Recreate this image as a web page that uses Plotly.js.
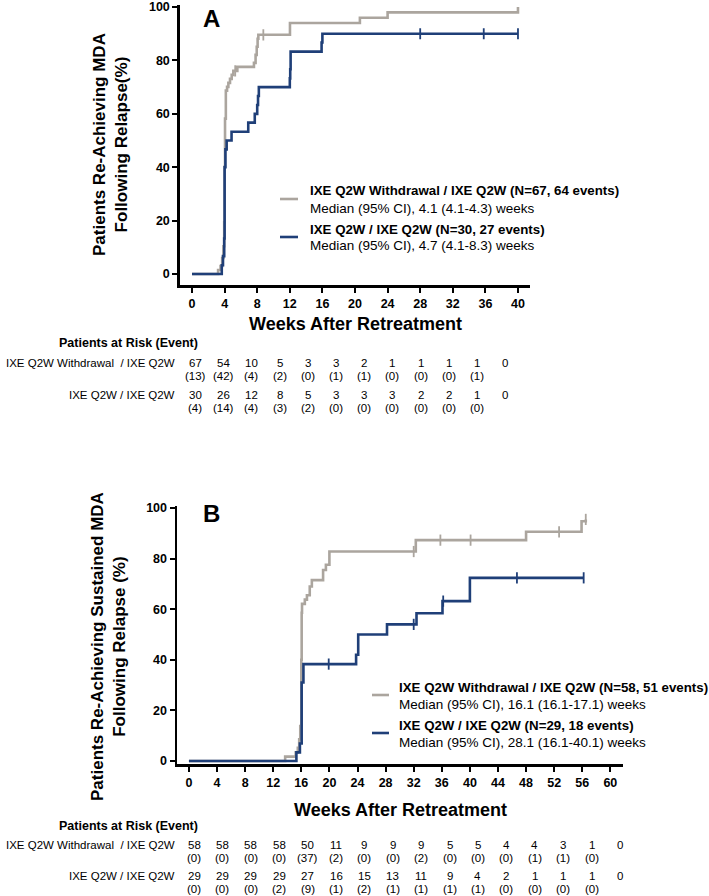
<!DOCTYPE html>
<html>
<head>
<meta charset="utf-8">
<script src="https://cdn.plot.ly/plotly-3.0.1.min.js"></script>
<style>html,body{margin:0;padding:0;background:#fff;}#chart{width:709px;height:896px;}</style>
</head>
<body>
<div id="chart"></div>
<script>
// ---------- DATA ----------
// Panel A : re-achieving MDA
const weeksA_wd = [0, 3.2, 3.5, 3.7, 3.85, 3.95, 4.0, 4.05, 4.15, 4.3, 4.46, 4.66, 4.87, 5.07, 5.56, 7.6, 7.8, 7.94, 8.05, 8.14, 12.02, 20.6, 24.0, 40.0];
const pctA_wd   = [0, 1.5, 3.0, 6.0, 10.4, 19.4, 40.3, 58.2, 68.7, 70.1, 71.6, 73.1, 74.6, 76.1, 77.6, 79.1, 82.1, 85.1, 88.1, 89.6, 94.0, 96.0, 98.0, 100];
const censA_wd_w = [5.3, 8.75];
const censA_wd_p = [76.1, 89.6];

const weeksA_ct = [0, 3.65, 3.8, 3.95, 4.0, 4.1, 4.25, 4.85, 6.9, 7.7, 8.0, 8.1, 8.2, 12.0, 12.05, 12.1, 15.9, 16.0, 40.0];
const pctA_ct   = [0, 3.3, 6.7, 13.3, 40.0, 46.7, 50.0, 53.3, 56.7, 60.0, 63.3, 66.7, 70.0, 73.3, 76.7, 83.3, 86.7, 90.0, 90.0];
const censA_ct_w = [28.0, 35.8, 40.0];
const censA_ct_p = [90.0, 90.0, 90.0];

// Panel B : re-achieving sustained MDA
const weeksB_wd = [0, 13.7, 15.2, 15.5, 15.7, 15.85, 16.0, 16.05, 16.1, 16.5, 16.8, 17.2, 17.5, 19.1, 19.5, 20.0, 32.3, 48.0, 55.9, 56.5];
const pctB_wd   = [0, 1.7, 3.4, 5.2, 8.6, 13.8, 40.0, 58.6, 62.1, 63.8, 65.5, 69.0, 71.5, 75.5, 77.6, 82.8, 87.3, 90.6, 94.8, 95.5];
const censB_wd_w = [32.0, 35.8, 40.1, 52.7, 56.5];
const censB_wd_p = [82.8, 87.3, 87.3, 90.6, 95.5];

const weeksB_ct = [0, 15.3, 15.8, 16.05, 16.3, 23.8, 24.1, 28.2, 32.4, 36.1, 40.0, 56.2];
const pctB_ct   = [0, 3.4, 6.9, 31.0, 38.3, 42.0, 50.0, 54.0, 58.4, 63.2, 72.4, 72.4];
const censB_ct_w = [19.9, 32.0, 36.2, 46.7, 56.2];
const censB_ct_p = [38.3, 54.0, 63.2, 72.4, 72.4];

// Axis ticks
const ticksA_x = [0, 4, 8, 12, 16, 20, 24, 28, 32, 36, 40];
const ticksB_x = [0, 4, 8, 12, 16, 20, 24, 28, 32, 36, 40, 44, 48, 52, 56, 60];
const ticks_y = [0, 20, 40, 60, 80, 100];

// Risk tables
const riskA_wd = [67, 54, 10, 5, 3, 3, 2, 1, 1, 1, 1, 0];
const evA_wd   = [13, 42, 4, 2, 0, 1, 1, 0, 0, 0, 1];
const riskA_ct = [30, 26, 12, 8, 5, 3, 3, 3, 2, 2, 1, 0];
const evA_ct   = [4, 14, 4, 3, 2, 0, 0, 0, 0, 0, 0];
const riskB_wd = [58, 58, 58, 58, 50, 11, 9, 9, 9, 5, 5, 4, 4, 3, 1, 0];
const evB_wd   = [0, 0, 0, 0, 37, 2, 0, 0, 2, 0, 0, 0, 1, 1, 0];
const riskB_ct = [29, 29, 29, 29, 27, 16, 15, 13, 11, 9, 4, 2, 1, 1, 1, 0];
const evB_ct   = [0, 0, 0, 2, 9, 1, 2, 1, 1, 1, 1, 0, 0, 0, 0];

// Text
const rowLabels = ['IXE\u00a0Q2W Withdrawal\u00a0\u00a0/\u00a0IXE\u00a0Q2W', 'IXE\u00a0Q2W\u00a0/\u00a0IXE\u00a0Q2W'];
const legA = [
  ['IXE Q2W Withdrawal / IXE Q2W (N=67, 64 events)', 'Median (95% CI), 4.1 (4.1-4.3) weeks'],
  ['IXE Q2W / IXE Q2W (N=30, 27 events)', 'Median (95% CI), 4.7 (4.1-8.3) weeks']
];
const legB = [
  ['IXE Q2W Withdrawal / IXE Q2W (N=58, 51 events)', 'Median (95% CI), 16.1 (16.1-17.1) weeks'],
  ['IXE Q2W / IXE Q2W (N=29, 18 events)', 'Median (95% CI), 28.1 (16.1-40.1) weeks']
];

// ---------- STYLE ----------
const W = 709, H = 896;
const GRAY = '#aba59e', BLUE = '#1f3f78';
const F = 'Liberation Sans, Arial, sans-serif';
const FN = 'Liberation Sans Narrow, Arial Narrow, Liberation Sans, Arial, sans-serif';
const TS = 11.5; // risk table font size
const px = x => x / W;
const py = y => 1 - y / H;

function stepTrace(x, y, color, xa, ya) {
  return {x, y, type: 'scatter', mode: 'lines', line: {color, width: 2.6, shape: 'hv'},
          xaxis: xa, yaxis: ya, hoverinfo: 'skip', showlegend: false};
}
function censTrace(x, y, color, xa, ya) {
  return {x, y, type: 'scatter', mode: 'markers',
          marker: {symbol: 'line-ns-open', size: 8, color, line: {color, width: 1.8}},
          xaxis: xa, yaxis: ya, hoverinfo: 'skip', showlegend: false};
}

const data = [
  stepTrace(weeksA_wd, pctA_wd, GRAY, 'x', 'y'),
  stepTrace(weeksA_ct, pctA_ct, BLUE, 'x', 'y'),
  censTrace(censA_wd_w, censA_wd_p, GRAY, 'x', 'y'),
  censTrace(censA_ct_w, censA_ct_p, BLUE, 'x', 'y'),
  stepTrace(weeksB_wd, pctB_wd, GRAY, 'x2', 'y2'),
  stepTrace(weeksB_ct, pctB_ct, BLUE, 'x2', 'y2'),
  censTrace(censB_wd_w, censB_wd_p, GRAY, 'x2', 'y2'),
  censTrace(censB_ct_w, censB_ct_p, BLUE, 'x2', 'y2')
];

function axisBase(extra) {
  return Object.assign({
    showline: true, linecolor: '#000', linewidth: 2.5, mirror: false,
    ticks: 'outside', ticklen: 5, tickwidth: 2, tickcolor: '#000',
    showgrid: false, zeroline: false, fixedrange: true,
    tickfont: {family: F, size: 12.5, color: '#000', weight: 'bold'}
  }, extra);
}

const annotations = [];
const shapes = [];
function txt(x, y, text, size, opts) {
  annotations.push(Object.assign({
    xref: 'paper', yref: 'paper', x: px(x), y: py(y), text, showarrow: false,
    font: {family: F, size, color: '#000'}, xanchor: 'center', yanchor: 'middle'
  }, opts || {}));
}

// Panel letters
txt(212, 19, '<b>A</b>', 24);
txt(211, 513, '<b>B</b>', 24);

// Y titles
txt(110, 145, '<b>Patients Re-Achieving MDA<br>Following Relapse(%)</b>', 17, {textangle: -90});
txt(108, 647, '<b>Patients Re-Achieving Sustained MDA<br>Following Relapse (%)</b>', 17, {textangle: -90});

// X titles
txt(355, 324, '<b>Weeks After Retreatment</b>', 18);
txt(400, 810, '<b>Weeks After Retreatment</b>', 18);

// Legends
function legend(items, lx0, lx1, tx, ys) {
  items.forEach((it, i) => {
    const y0 = ys[i];
    const col = i === 0 ? GRAY : BLUE;
    shapes.push({type: 'line', xref: 'paper', yref: 'paper', x0: px(lx0), x1: px(lx1),
                 y0: py(y0 + 8), y1: py(y0 + 8), line: {color: col, width: 2.6}});
    txt(tx, y0, '<b>' + it[0] + '</b>', 13.3, {xanchor: 'left'});
    txt(tx, y0 + 17, it[1], 13.5, {xanchor: 'left'});
  });
}
legend(legA, 280, 298, 308, [191, 229]);
legend(legB, 372, 389, 397, [687, 725]);

// Risk tables
function riskTable(headerY, rowsY, col0, dx, r1, e1, r2, e2) {
  txt(128, headerY, '<b>Patients at Risk (Event)</b>', 12.5, {font: {family: FN, size: 12.5, color: '#000'}});
  const rs = [r1, r2], es = [e1, e2];
  for (let k = 0; k < 2; k++) {
    const y = rowsY[k];
    txt(177, y, rowLabels[k], TS, {xanchor: 'right', font: {family: FN, size: TS, color: '#000'}});
    rs[k].forEach((v, i) => txt(col0 + i * dx, y, String(v), TS, {font: {family: FN, size: TS, color: '#000'}}));
    es[k].forEach((v, i) => txt(col0 + i * dx, y + 12.5, '(' + v + ')', TS, {font: {family: FN, size: TS, color: '#000'}}));
  }
}
riskTable(343, [363, 395], 195, 28.2, riskA_wd, evA_wd, riskA_ct, evA_ct);
riskTable(826, [845, 876], 194, 28.4, riskB_wd, evB_wd, riskB_ct, evB_ct);

const layout = {
  width: W, height: H,
  margin: {l: 0, r: 0, t: 0, b: 0},
  paper_bgcolor: '#fff', plot_bgcolor: 'rgba(0,0,0,0)',
  showlegend: false,
  xaxis: axisBase({domain: [179.8 / W, 530.2 / W], range: [-1.5, 41.5], tickvals: ticksA_x, anchor: 'y'}),
  yaxis: axisBase({domain: [py(285), py(4.9)], range: [-4.1, 100.8], tickvals: ticks_y, anchor: 'x'}),
  xaxis2: axisBase({domain: [177 / W, 623 / W], range: [-1.7, 61.8], tickvals: ticksB_x, anchor: 'y2'}),
  yaxis2: axisBase({domain: [py(764), py(506)], range: [-1.2, 100.8], tickvals: ticks_y, anchor: 'x2'}),
  annotations, shapes
};

Plotly.newPlot('chart', data, layout, {displayModeBar: false, staticPlot: true});
</script>
</body>
</html>
